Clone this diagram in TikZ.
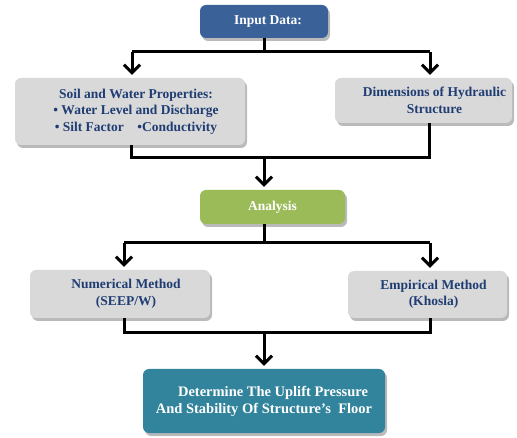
\documentclass[tikz,border=0pt]{standalone}
\usepackage{fontspec}
\setmainfont{Liberation Serif}
\usetikzlibrary{shadows,arrows.meta}
\definecolor{inblue}{HTML}{3B6298}
\definecolor{boxgray}{HTML}{D9D9D9}
\definecolor{agreen}{HTML}{9BBB59}
\definecolor{fteal}{HTML}{31849B}
\definecolor{txtnavy}{HTML}{1F3D73}
\tikzset{
  basebox/.style={rounded corners=6pt, align=center, inner sep=0pt,
    font=\bfseries\fontsize{13.5}{16.5}\selectfont,
    drop shadow={shadow xshift=2pt, shadow yshift=-3pt, opacity=0.45, fill=black!60}},
  graybox/.style={basebox, fill=boxgray, text=txtnavy},
  bluebox/.style={basebox, fill=inblue, text=white},
  greenbox/.style={basebox, fill=agreen, text=white},
  tealbox/.style={basebox, fill=fteal, text=white, font=\bfseries\fontsize{14.5}{17}\selectfont},
  conn/.style={line width=3pt, draw=black},
  arr/.style={conn, -{Straight Barb[length=8pt,width=16pt,line width=3pt]}, shorten >=3pt}
}
\begin{document}
\begin{tikzpicture}[x=1pt,y=-1pt]
\useasboundingbox (0,0) rectangle (517,438);
% boxes
\node[bluebox, minimum width=128pt, minimum height=33pt] (in) at (264,21.5) {\hspace*{8pt}Input Data:};
\node[graybox, minimum width=230pt, minimum height=67pt] (soil) at (130,111.5)
  {\hspace*{12pt}Soil and Water Properties:\\\hspace*{12pt}\textbullet\ Water Level and Discharge\\\hspace*{12pt}\textbullet\ Silt Factor\quad\textbullet Conductivity};
\node[graybox, minimum width=177pt, minimum height=45pt] (dim) at (423.5,100.5)
  {\hspace*{22pt}Dimensions of Hydraulic\\\hspace*{22pt}Structure};
\node[greenbox, minimum width=145pt, minimum height=34pt] (an) at (272.5,207) {Analysis};
\node[graybox, minimum width=180pt, minimum height=48pt] (num) at (120,294)
  {\hspace*{12pt}Numerical Method\\\hspace*{12pt}(SEEP/W)};
\node[graybox, minimum width=159pt, minimum height=47pt] (emp) at (427.5,294.5)
  {\hspace*{12pt}Empirical Method\\\hspace*{12pt}(Khosla)};
\node[tealbox, minimum width=242pt, minimum height=64pt] (fin) at (264,401)
  {\hspace*{18pt}Determine The Uplift Pressure\\And Stability Of Structure's\ \ Floor};
% junction coordinates
\coordinate (a0) at (264,38);
\coordinate (j1l) at (132,52);
\coordinate (j1r) at (430,52);
\coordinate (j1m) at (264,52);
\coordinate (s0) at (131,145);
\coordinate (d0) at (429,123);
\coordinate (j2l) at (131,158);
\coordinate (j2r) at (429,158);
\coordinate (j2m) at (264,158);
\coordinate (a1) at (264,224);
\coordinate (j3l) at (124,243);
\coordinate (j3r) at (430,243);
\coordinate (j3m) at (264,243);
\coordinate (n0) at (124,318);
\coordinate (e0) at (430,318);
\coordinate (j4l) at (124,333);
\coordinate (j4r) at (430,333);
\coordinate (j4m) at (264,333);
% connectors
\draw[conn] (a0) -- (j1m);
\draw[conn] (j1l) -- (j1r);
\draw[arr] (j1l) -- (j1l |- soil.north);
\draw[arr] (j1r) -- (j1r |- dim.north);
\draw[conn] (s0) -- (j2l) -- (j2r) -- (d0);
\draw[arr] (j2m) -- (j2m |- an.north);
\draw[conn] (a1) -- (j3m);
\draw[conn] (j3l) -- (j3r);
\draw[arr] (j3l) -- (j3l |- num.north);
\draw[arr] (j3r) -- (j3r |- emp.north);
\draw[conn] (n0) -- (j4l) -- (j4r) -- (e0);
\draw[arr] (j4m) -- (fin.north);
\end{tikzpicture}
\end{document}
